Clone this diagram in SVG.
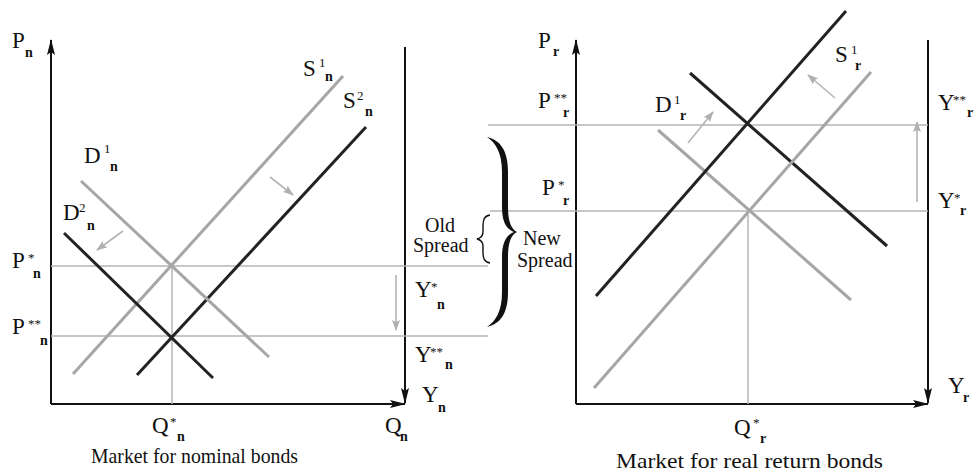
<svg xmlns="http://www.w3.org/2000/svg" width="974" height="474" viewBox="0 0 974 474">
<style>
text{font-family:"Liberation Serif","Times New Roman",serif;fill:#111}
.m{font-size:23px}
.sup{font-size:13px}
.sub{font-size:14px;font-weight:bold}
.cap{font-size:21px}
.sp{font-size:20px}
.ax{stroke:#111;stroke-width:2;fill:none}
.g{stroke:#b4b4b4;stroke-width:1.5;fill:none}
.lt{stroke:#a6a6a6;stroke-width:3;fill:none}
.dk{stroke:#222;stroke-width:3;fill:none}
.ga{stroke:#b4b4b4;stroke-width:1.6;fill:none;marker-end:url(#gh)}
</style>
<defs>
<marker id="ah" viewBox="0 0 16 8" refX="15" refY="4" markerWidth="16" markerHeight="8" markerUnits="userSpaceOnUse" orient="auto">
<path d="M0,0 L16,4 L0,8 L3,4 Z" fill="#111"/>
</marker>
<marker id="gh" viewBox="0 0 11 8" refX="10" refY="4" markerWidth="11" markerHeight="8" markerUnits="userSpaceOnUse" orient="auto">
<path d="M0,0 L11,4 L0,8 L2,4 Z" fill="#b0b0b0"/>
</marker>
</defs>
<rect width="974" height="474" fill="#fff"/>

<g id="axes">
<path class="ax" d="M51,404 V40" marker-end="url(#ah)"/>
<path class="ax" d="M51,404 H405" marker-end="url(#ah)"/>
<path class="ax" d="M405,47 V403" marker-end="url(#ah)"/>
<path class="ax" d="M576,404 V40" marker-end="url(#ah)"/>
<path class="ax" d="M576,404 H928" marker-end="url(#ah)"/>
<path class="ax" d="M928,40 V403" marker-end="url(#ah)"/>
</g>

<g id="guides">
<path class="g" d="M51,266 H488"/>
<path class="g" d="M51,336 H488"/>
<path class="g" d="M172,266 V404"/>
<path class="g" d="M488,125 H928"/>
<path class="g" d="M490,211 H928"/>
<path class="g" d="M748,211 V404"/>
</g>

<g id="curves">
<path id="S1n" class="lt" d="M73,374 L343,76"/>
<path id="S2n" class="dk" d="M137,375 L366,127"/>
<path id="D1n" class="lt" d="M81,181 L269,357"/>
<path id="D2n" class="dk" d="M64,233 L213,378"/>
<path id="D1r" class="lt" d="M658,130 L851,300"/>
<path id="D2r" class="dk" d="M690,73 L887,246"/>
<path id="S1r" class="lt" d="M594,388 L871,72"/>
<path id="S2r" class="dk" d="M596,296 L846,11"/>
</g>

<g id="connectors">
<path class="ga" d="M123,231 L97,250"/>
<path class="ga" d="M270,177 L293,195"/>
<path class="ga" d="M396,275 V330"/>
<path class="ga" d="M688,143 L713,112"/>
<path class="ga" d="M835,98 L808,75"/>
<path class="ga" d="M917,202 V122"/>
</g>

<g id="braces">
<path id="old-brace" d="M490,215 C484,216 483,220 483,226 L483,232 C483,236 481,238 477,239 C481,240 483,242 483,246 L483,252 C483,258 484,262 490,263" fill="none" stroke="#111" stroke-width="1.4"/>
<path id="new-brace" d="M487,137 C500,140 508,150 508,172 L508,207 C508,221 511,229 517,232 C511,235 508,243 508,257 L508,292 C508,314 500,324 487,327 C496,321 502,311 502,292 L502,257 C502,243 506,235 514,232 C506,229 502,221 502,207 L502,172 C502,153 496,143 487,137 Z" fill="#111"/>
</g>

<g id="labels">
<text class="m" x="12" y="48">P<tspan class="sub" x="25" y="57">n</tspan></text>
<text class="m" x="84" y="163">D<tspan class="sup" x="104" y="153">1</tspan><tspan class="sub" x="110" y="171">n</tspan></text>
<text class="m" x="63" y="220">D<tspan class="sup" x="79" y="212">2</tspan><tspan class="sub" x="87" y="230">n</tspan></text>
<text class="m" x="303" y="76">S<tspan class="sup" x="319" y="67">1</tspan><tspan class="sub" x="325" y="81">n</tspan></text>
<text class="m" x="343" y="108">S<tspan class="sup" x="357" y="100">2</tspan><tspan class="sub" x="365" y="116">n</tspan></text>
<text class="m" x="12" y="268">P<tspan class="sup" x="28" y="262">*</tspan><tspan class="sub" x="33" y="278">n</tspan></text>
<text class="m" x="12" y="334">P<tspan class="sup" x="28" y="328">**</tspan><tspan class="sub" x="40" y="345">n</tspan></text>
<text class="m" x="152" y="433">Q<tspan class="sup" x="170" y="426">*</tspan><tspan class="sub" x="177" y="441">n</tspan></text>
<text class="m" x="385" y="433">Q<tspan class="sub" x="400" y="441">n</tspan></text>
<text class="m" x="422" y="402">Y<tspan class="sub" x="438" y="412">n</tspan></text>
<text class="m" x="415" y="297">Y<tspan class="sup" x="431" y="291">*</tspan><tspan class="sub" x="437" y="309">n</tspan></text>
<text class="m" x="415" y="362">Y<tspan class="sup" x="430" y="356">**</tspan><tspan class="sub" x="445" y="369">n</tspan></text>
<text class="sp" x="425" y="232">Old</text>
<text class="sp" x="413" y="252">Spread</text>
<text class="sp" x="523" y="245">New</text>
<text class="sp" x="517" y="267">Spread</text>
<text class="cap" x="91" y="463" textLength="207" lengthAdjust="spacingAndGlyphs">Market for nominal bonds</text>

<text class="m" x="538" y="48">P<tspan class="sub" x="553" y="56">r</tspan></text>
<text class="m" x="538" y="108">P<tspan class="sup" x="554" y="102">**</tspan><tspan class="sub" x="563" y="117">r</tspan></text>
<text class="m" x="542" y="195">P<tspan class="sup" x="558" y="189">*</tspan><tspan class="sub" x="563" y="205">r</tspan></text>
<text class="m" x="655" y="112">D<tspan class="sup" x="674" y="104">1</tspan><tspan class="sub" x="680" y="120">r</tspan></text>
<text class="m" x="835" y="62">S<tspan class="sup" x="851" y="54">1</tspan><tspan class="sub" x="855" y="70">r</tspan></text>
<text class="m" x="938" y="110">Y<tspan class="sup" x="953" y="104">**</tspan><tspan class="sub" x="967" y="117">r</tspan></text>
<text class="m" x="938" y="208">Y<tspan class="sup" x="954" y="202">*</tspan><tspan class="sub" x="960" y="215">r</tspan></text>
<text class="m" x="948" y="393">Y<tspan class="sub" x="963" y="402">r</tspan></text>
<text class="m" x="734" y="435">Q<tspan class="sup" x="753" y="427">*</tspan><tspan class="sub" x="760" y="443">r</tspan></text>
<text class="cap" x="616" y="468" textLength="267" lengthAdjust="spacingAndGlyphs">Market for real return bonds</text>
</g>
</svg>
